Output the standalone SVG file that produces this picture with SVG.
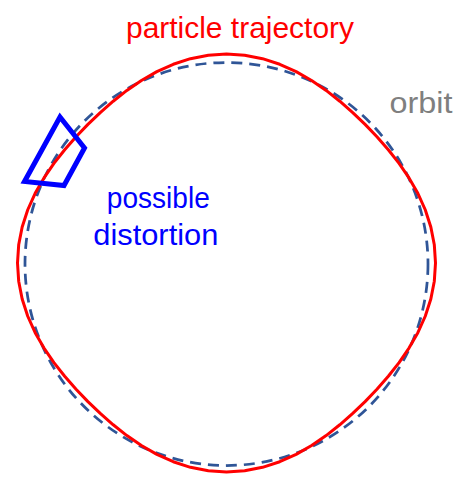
<svg xmlns="http://www.w3.org/2000/svg" width="462" height="477" viewBox="0 0 462 477">
<style>
.lbl{font-family:"Liberation Sans",Arial,sans-serif;font-size:29px;}
.orbit{fill:none;stroke:#2F5597;stroke-width:2.75;stroke-dasharray:11 7;}
.traj{fill:none;stroke:#FF0000;stroke-width:3;stroke-linejoin:round;}
.box{fill:none;stroke:#0000FF;stroke-width:5;stroke-linejoin:miter;}
</style>
<rect width="462" height="477" fill="#FFFFFF"/>
<g id="orbit">
<circle class="orbit" cx="226.5" cy="264" r="201.5"/>
</g>
<g id="trajectory" transform="translate(226.5,263)">
<polygon class="traj" points="209,0 207.81,18.18 204.33,36.03 198.74,53.25 191.35,69.65 182.5,85.1 172.56,99.63 161.8,113.29 150.44,126.24 138.59,138.59 126.24,150.44 113.29,161.8 99.63,172.56 85.1,182.5 69.65,191.35 53.25,198.74 36.03,204.33 18.18,207.81 0,209 -18.18,207.81 -36.03,204.33 -53.25,198.74 -69.65,191.35 -85.1,182.5 -99.63,172.56 -113.29,161.8 -126.24,150.44 -138.59,138.59 -150.44,126.24 -161.8,113.29 -172.56,99.63 -182.5,85.1 -191.35,69.65 -198.74,53.25 -204.33,36.03 -207.81,18.18 -209,0 -207.81,-18.18 -204.33,-36.03 -198.74,-53.25 -191.35,-69.65 -182.5,-85.1 -172.56,-99.63 -161.8,-113.29 -150.44,-126.24 -138.59,-138.59 -126.24,-150.44 -113.29,-161.8 -99.63,-172.56 -85.1,-182.5 -69.65,-191.35 -53.25,-198.74 -36.03,-204.33 -18.18,-207.81 0,-209 18.18,-207.81 36.03,-204.33 53.25,-198.74 69.65,-191.35 85.1,-182.5 99.63,-172.56 113.29,-161.8 126.24,-150.44 138.59,-138.59 150.44,-126.24 161.8,-113.29 172.56,-99.63 182.5,-85.1 191.35,-69.65 198.74,-53.25 204.33,-36.03 207.81,-18.18"/>
</g>
<g id="distortion-box">
<polygon class="box" points="60,117 84.5,148 64,185.5 24.5,181.5"/>
</g>
<g id="labels">
<text class="lbl" x="240" y="37.7" text-anchor="middle" fill="#FF0000" textLength="228" lengthAdjust="spacingAndGlyphs">particle trajectory</text>
<text class="lbl" x="421" y="112.7" text-anchor="middle" fill="#7F7F7F" textLength="63" lengthAdjust="spacingAndGlyphs">orbit</text>
<text class="lbl" x="158.3" y="208.3" text-anchor="middle" fill="#0000FF" textLength="103" lengthAdjust="spacingAndGlyphs">possible</text>
<text class="lbl" x="155.8" y="245.3" text-anchor="middle" fill="#0000FF" textLength="125" lengthAdjust="spacingAndGlyphs">distortion</text>
</g>
</svg>
